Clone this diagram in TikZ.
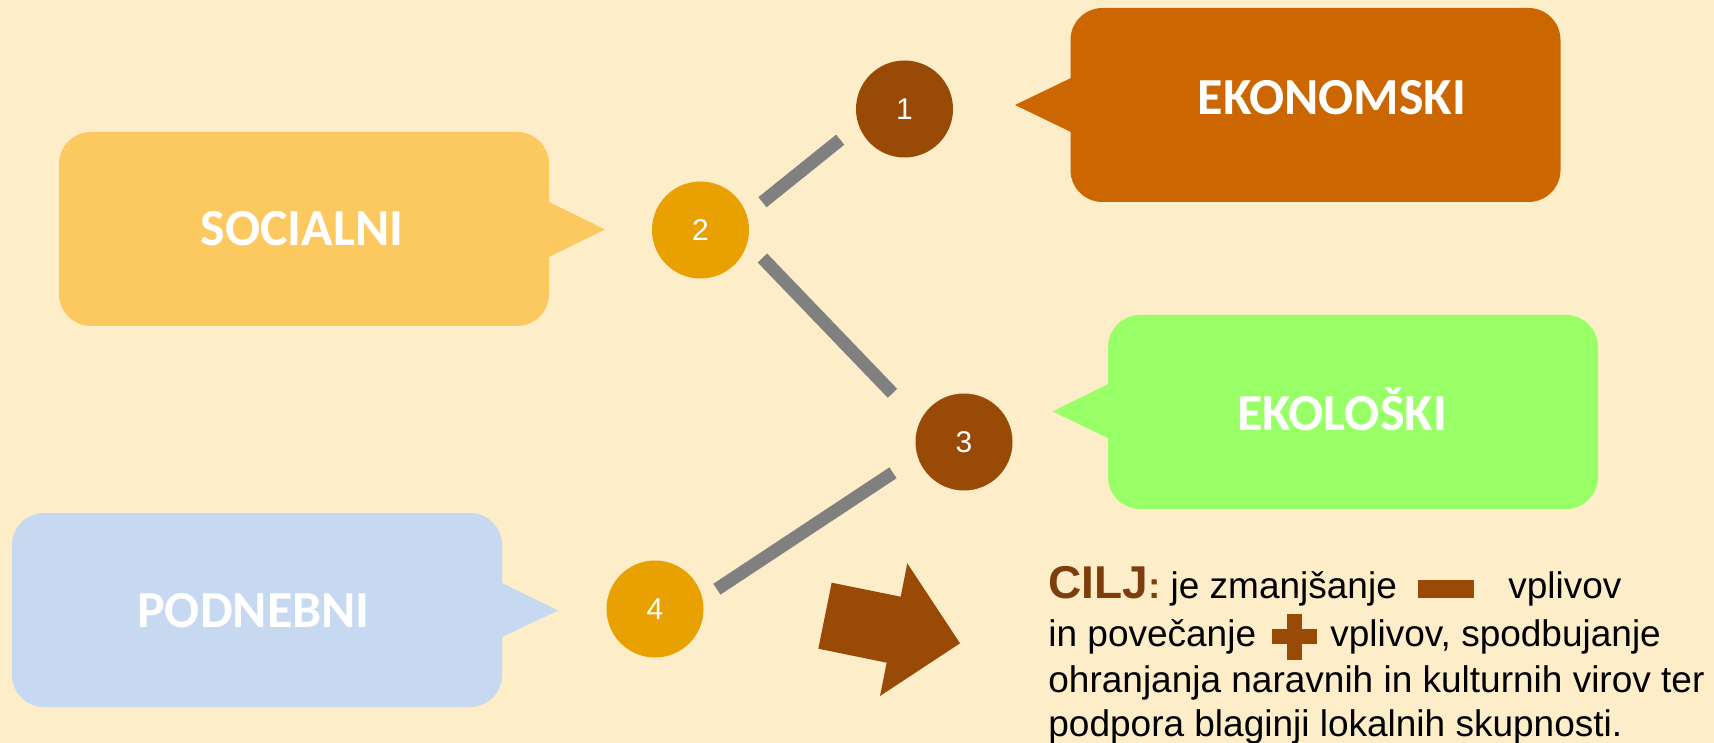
\documentclass[tikz,border=0pt]{standalone}
\usepackage{fontspec}
\setmainfont{Liberation Sans}
\newfontfamily\boxfont{Carlito}
\definecolor{bgc}{HTML}{FDEDC9}
\definecolor{socc}{HTML}{FCC960}
\definecolor{ekoc}{HTML}{CC6600}
\definecolor{ekolc}{HTML}{99FF66}
\definecolor{podc}{HTML}{C6D9F1}
\definecolor{brownc}{HTML}{994A06}
\definecolor{orangec}{HTML}{E9A102}
\definecolor{grayc}{HTML}{808080}
\definecolor{ciljc}{HTML}{7E3D0C}
\tikzset{
  calloutbox/.style={draw=none, rounded corners=16pt, minimum width=245pt, minimum height=97pt, inner sep=0pt},
  boxlabel/.style={anchor=base, inner sep=0pt, text=white, font=\boxfont\bfseries\fontsize{26}{30}\selectfont},
  numcircle/.style={circle, minimum size=48.5pt, inner sep=0pt, text=white, font=\fontsize{15}{18}\selectfont},
  linkline/.style={draw=grayc, line width=6.5pt},
  bodyline/.style={anchor=base west, inner sep=0pt, font=\fontsize{18.5}{22}\selectfont},
}
\begin{document}
\begin{tikzpicture}[x=0.5pt, y=-0.5pt]
\fill[bgc] (0,0) rectangle (1714,743);
\useasboundingbox (0,0) rectangle (1714,743);

% callout boxes
\node[calloutbox, fill=socc] (socbox) at (304,229) {};
\fill[socc] (540,202) -- (549,202) -- (605,229.5) -- (549,257) -- (540,257) -- cycle;
\node[boxlabel] (soclabel) at (302,246) {SOCIALNI};

\node[calloutbox, fill=ekoc] (ekobox) at (1315.5,105) {};
\fill[ekoc] (1080,78) -- (1071,78) -- (1015,105) -- (1071,132) -- (1080,132) -- cycle;
\node[boxlabel] (ekolabel) at (1332,115) {EKONOMSKI};

\node[calloutbox, fill=ekolc] (ekolbox) at (1353,412) {};
\fill[ekolc] (1117,384) -- (1108,384) -- (1052.5,411.5) -- (1108,438) -- (1117,438) -- cycle;
\node[boxlabel] (ekollabel) at (1342,430) {EKOLOŠKI};

\node[calloutbox, fill=podc] (podbox) at (257,610) {};
\fill[podc] (493,583) -- (502,583) -- (558,610.5) -- (502,637) -- (493,637) -- cycle;
\node[boxlabel] (podlabel) at (253.5,627) {PODNEBNI};

% numbered circles
\node[numcircle, fill=brownc] (c1) at (904.5,109) {1};
\node[numcircle, fill=orangec] (c2) at (700.5,230) {2};
\node[numcircle, fill=brownc] (c3) at (964,442) {3};
\node[numcircle, fill=orangec] (c4) at (655,609) {4};

% connector end points
\coordinate (l1a) at (762.5,202.2);
\coordinate (l1b) at (840.2,139.7);
\coordinate (l2a) at (762.4,258);
\coordinate (l2b) at (892.5,393.3);
\coordinate (l3a) at (893,472.8);
\coordinate (l3b) at (716.9,589.2);
\draw[linkline] (l1a) -- (l1b);
\draw[linkline] (l2a) -- (l2b);
\draw[linkline] (l3a) -- (l3b);

% block arrow
\fill[brownc] (831.7,582.7) -- (900.7,596.7) -- (907.3,563.3) -- (960,643.3)
  -- (880,696) -- (886.7,662.7) -- (818.3,648.7) -- cycle;

% goal text
\node[bodyline] (t1) at (1048,598) {{\color{ciljc}\bfseries{\fontsize{23}{26}\selectfont CILJ}:} je zmanjšanje};
\node[fill=brownc, minimum width=28pt, minimum height=9pt, inner sep=0pt] (minus) at (1445.5,589) {};
\node[bodyline] (t1b) at (1508,598) {vplivov};
\node[bodyline] (t2) at (1048,646.5) {in povečanje};
\fill[brownc] (1272,629) rectangle (1317,644);
\fill[brownc] (1287,614) rectangle (1302,660);
\node[bodyline] (t2b) at (1330,646.5) {vplivov, spodbujanje};
\node[bodyline] (t3) at (1048,692) {ohranjanja naravnih in kulturnih virov ter};
\node[bodyline] (t4) at (1048,736.5) {podpora blaginji lokalnih skupnosti.};
\end{tikzpicture}
\end{document}
